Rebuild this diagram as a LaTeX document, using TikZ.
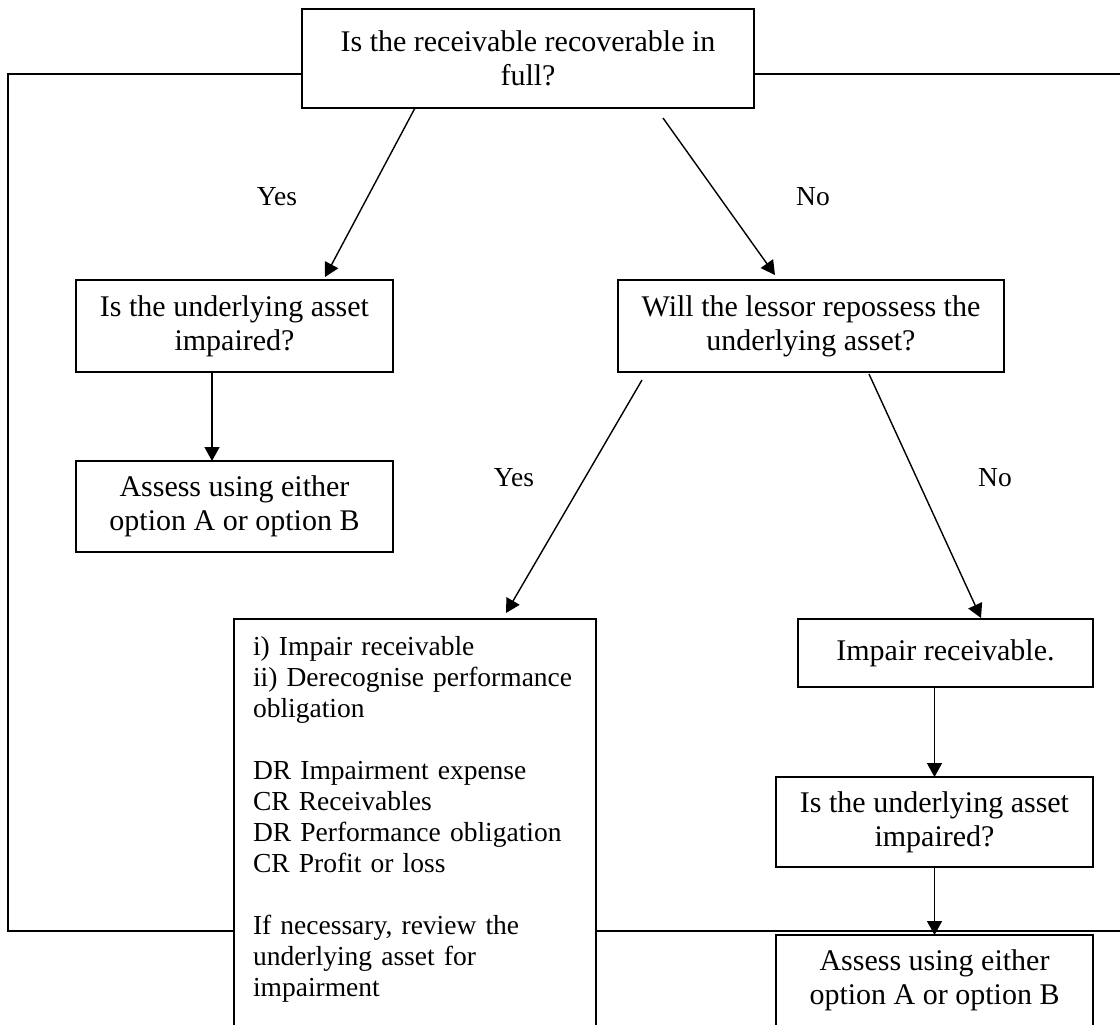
\documentclass[tikz,border=0pt]{standalone}
\usepackage{fontspec}
\setmainfont{Liberation Serif}
\usetikzlibrary{arrows.meta}

\begin{document}
\begin{tikzpicture}[x=0.5pt, y=-0.5pt,
    box/.style = {draw, line width=0.9pt, fill=white, align=center, inner sep=2pt, outer sep=0pt, font=\fontsize{15}{17}\selectfont},
    arr/.style = {line width=0.7pt, -{Triangle[length=7pt, width=7.5pt]}},
    lbl/.style = {font=\fontsize{13.75}{15.5}\selectfont}]
            \useasboundingbox (0,0) rectangle (1120,1024);
            \clip (0,0) rectangle (1120,1024);
            % Frame
            \draw[line width=1.2pt] (1130,74) -- (8,74) -- (8,931) -- (1130,931);

            % Nodes
            \node[box, minimum width=226pt, minimum height=49.5pt] (top) at (528,58.5) {Is the receivable recoverable in\\full?};
            \node[box, minimum width=158.5pt, minimum height=46pt] (lq) at (234.5,326) {Is the underlying asset\\impaired?};
            \node[box, minimum width=158.5pt, minimum height=45.5pt] (la) at (234.5,506.5) {Assess using either\\option A or option B};
            \node[box, minimum width=193pt, minimum height=46pt] (rq) at (811,326) {Will the lessor repossess the\\underlying asset?};
            \node[box, anchor=north west, align=left, text width=162pt, inner xsep=9.5pt, inner ysep=8.5pt, font=\fontsize{13.75}{15.5}\selectfont] (big) at (234,619)
                {i) Impair receivable\\ii) Derecognise performance\\obligation\\[15.5pt]DR Impairment expense\\CR Receivables\\DR Performance obligation\\CR Profit or loss\\[15.5pt]If necessary, review the\\underlying asset for\\impairment\\ \mbox{}};
            \node[box, minimum width=147.5pt, minimum height=34pt] (imp) at (945.5,653) {Impair receivable.};
            \node[box, minimum width=158.5pt, minimum height=45pt] (rq2) at (934.5,822) {Is the underlying asset\\impaired?};
            \node[box, minimum width=158.5pt, minimum height=45.5pt] (ra) at (934.5,980.5) {Assess using either\\option A or option B};

            \node[lbl] (yes1) at (277,197) {Yes};
            \node[lbl] (no1) at (813,197) {No};
            \node[lbl] (yes2) at (514,478) {Yes};
            \node[lbl] (no2) at (995,478) {No};

            % Arrows
            \draw[arr] ([xshift=-56.5pt]top.south) -- ([xshift=45.25pt, yshift=1.5pt]lq.north);
            \draw[arr] ([xshift=67.5pt, yshift=-5pt]top.south) -- ([xshift=-18pt, yshift=2.5pt]rq.north);
            \draw[arr] ([xshift=-11.25pt]lq.south) -- ([xshift=-11.25pt]la.north);
            \draw[arr] ([xshift=-84.5pt, yshift=-4pt]rq.south) -- ([xshift=45.5pt, yshift=3pt]big.north);
            \draw[arr] ([xshift=29pt, yshift=-1pt]rq.south) -- ([xshift=17.75pt, yshift=0.5pt]imp.north);
            \draw[arr] (rq2.north |- imp.south) -- (rq2.north);
            \draw[arr] (rq2.south) -- (ra.north);
        \end{tikzpicture}
\end{document}
